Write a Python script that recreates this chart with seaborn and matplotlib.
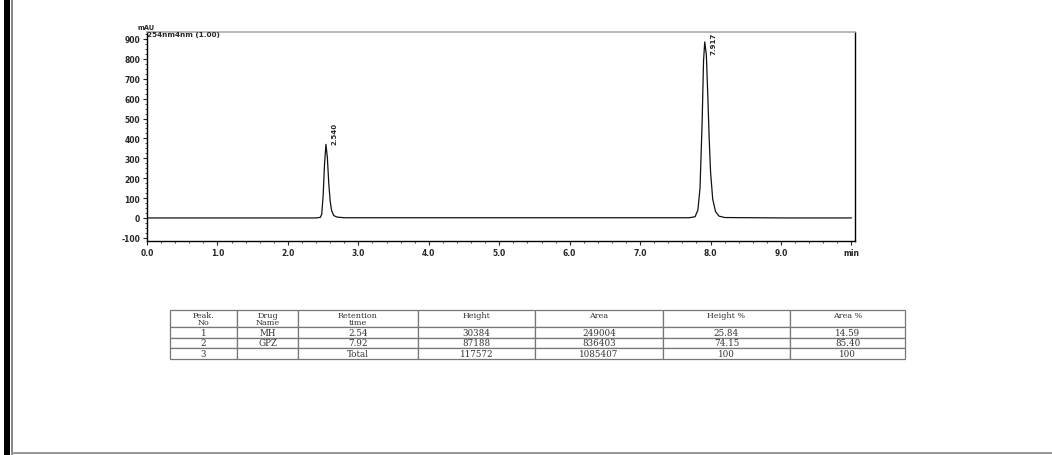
import matplotlib
matplotlib.use("Agg")
import matplotlib.pyplot as plt
import matplotlib.patches as mpatches
from matplotlib.ticker import MultipleLocator, FixedLocator
import seaborn as sns
import pandas as pd

# ---- chromatogram data ----
time_min = [0.00, 1.00, 2.00, 2.40, 2.46, 2.48, 2.50, 2.52, 2.54, 2.56, 2.58, 2.60,
            2.62, 2.65, 2.70, 2.80, 4.00, 6.00, 7.70, 7.78, 7.82, 7.85, 7.88, 7.90,
            7.917, 7.94, 7.96, 7.98, 8.00, 8.03, 8.07, 8.12, 8.20, 9.00, 10.00]
signal_mau = [0, 0, 0, 0, 3, 18, 110, 270, 370, 305, 175, 85,
              38, 12, 4, 1, 1, 1, 1, 6, 40, 150, 480, 790,
              885, 820, 620, 400, 230, 95, 32, 9, 2, 0, 0]
peak_times = [2.540, 7.917]
peak_labels = ["2.540", "7.917"]
label_bottoms = [372, 822]

x_ticks = [0, 1, 2, 3, 4, 5, 6, 7, 8, 9, 10]
x_tick_labels = ["0.0", "1.0", "2.0", "3.0", "4.0", "5.0", "6.0", "7.0", "8.0", "9.0", "min"]
y_ticks = [-100, 0, 100, 200, 300, 400, 500, 600, 700, 800, 900]

# ---- table data ----
col_headers = ["Peak.\nNo", "Drug\nName", "Retention\ntime", "Height", "Area", "Height %", "Area %"]
peak_no = ["1", "2", "3"]
drug_name = ["MH", "GPZ", ""]
retention = ["2.54", "7.92", "Total"]
heights = ["30384", "87188", "117572"]
areas = ["249004", "836403", "1085407"]
height_pct = ["25.84", "74.15", "100"]
area_pct = ["14.59", "85.40", "100"]

sns.set_style("white")
plt.rcParams["font.family"] = ["DejaVu Sans"]

W, H = 1052, 456
fig = plt.figure(figsize=(W / 100, H / 100), dpi=100)
fig.patch.set_facecolor("white")

# outer page borders
fig.add_artist(mpatches.Rectangle((4 / W, 0), 6 / W, 1, transform=fig.transFigure,
                                  color="black", lw=0))
fig.add_artist(mpatches.Rectangle((11 / W, 0), 1.5 / W, 1, transform=fig.transFigure,
                                  color="#888888", lw=0))
fig.add_artist(mpatches.Rectangle((11 / W, 1 - 455 / H), 1 - 11 / W, 2 / H,
                                  transform=fig.transFigure, color="#999999", lw=0))

ax = fig.add_axes([147 / W, 1 - 242 / H, (855 - 147) / W, (242 - 33) / H])
df = pd.DataFrame({"t": time_min, "s": signal_mau})
sns.lineplot(data=df, x="t", y="s", ax=ax, color="#111111", lw=0.9, estimator=None, sort=False)
ax.set_xlim(0, 10.05)
ax.set_ylim(-116, 935)
ax.set_xlabel("")
ax.set_ylabel("")

ax.xaxis.set_major_locator(FixedLocator(x_ticks))
ax.set_xticklabels(x_tick_labels)
ax.xaxis.set_minor_locator(MultipleLocator(0.2))
ax.yaxis.set_major_locator(FixedLocator(y_ticks))
ax.set_yticklabels([str(v) for v in y_ticks])
ax.yaxis.set_minor_locator(MultipleLocator(25))
ax.tick_params(axis="both", which="major", direction="out", length=3, width=0.8,
               labelsize=5.5, pad=2, bottom=True, left=True)
ax.tick_params(axis="both", which="minor", direction="out", length=1.5, width=0.6,
               bottom=True, left=True)
for lab in ax.get_xticklabels() + ax.get_yticklabels():
    lab.set_fontweight("bold")

for side in ["left", "bottom", "right"]:
    ax.spines[side].set_color("black")
    ax.spines[side].set_linewidth(1.0)
ax.spines["top"].set_color("#aaaaaa")
ax.spines["top"].set_linewidth(1.2)

# header texts
ax.text(-0.13, 947, "mAU", fontsize=4.8, fontweight="bold", ha="left", va="bottom",
        clip_on=False)
ax.text(0.0, 941, "254nm4nm (1.00)", fontsize=5.2, fontweight="bold", ha="left",
        va="top", clip_on=False)

for pt, lb, pl in zip(peak_times, label_bottoms, peak_labels):
    ax.text(pt + 0.12, lb, pl, rotation=90, fontsize=5, fontweight="bold",
            ha="center", va="bottom", clip_on=False)

# ---- table ----
tab_ax = fig.add_axes([170 / W, 1 - 360 / H, (905 - 170) / W, (360 - 311) / H])
tab_ax.axis("off")
tab_ax.set_xlim(0, 1)
tab_ax.set_ylim(0, 1)
cells = [list(r) for r in zip(peak_no, drug_name, retention, heights, areas, height_pct, area_pct)]
col_w = [67, 61, 120, 117, 128, 127, 115]
tot = sum(col_w)
tbl = tab_ax.table(cellText=[[""] * len(col_headers)] + cells,
                   colWidths=[w / tot for w in col_w],
                   cellLoc="center", bbox=[0, 0, 1, 1])
tbl.auto_set_font_size(False)
row_h = [17, 10.5, 10.5, 11]
for (r, c), cell in tbl.get_celld().items():
    cell.set_edgecolor("#777777")
    cell.set_linewidth(0.9)
    cell.set_height(row_h[r] / 49)
    cell.get_text().set_fontsize(6.3)
    cell.get_text().set_fontfamily("DejaVu Serif")
    cell.get_text().set_color("#333333")

# header labels, top aligned inside header cells
x0 = 0.0
for hdr, w in zip(col_headers, col_w):
    cx = (x0 + w / 2) / tot
    tab_ax.text(cx, 1 - 1.0 / 49, hdr, ha="center", va="top", fontsize=5.8,
                family="DejaVu Serif", color="#333333", linespacing=0.85)
    x0 += w

fig.savefig("out.png", dpi=100)
